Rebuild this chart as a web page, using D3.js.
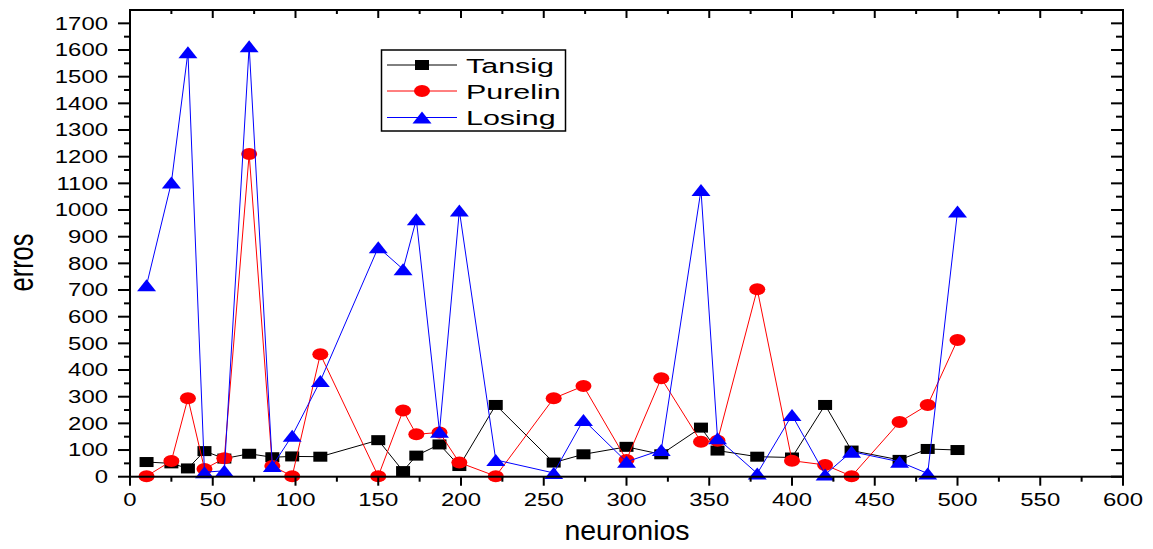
<!DOCTYPE html>
<html>
<head>
<meta charset="utf-8">
<script src="https://cdn.jsdelivr.net/npm/d3@7"></script>
<style>
  body { margin: 0; background: #fff; }
  text { font-family: "Liberation Sans", Arial, sans-serif; fill: #000; }
</style>
</head>
<body>
<div id="chart"></div>
<script>
// neuron counts on the x axis (shared by all three series)
var neuronios = [10, 25, 35, 45, 57, 72, 86, 98, 115, 150, 165, 173, 187, 199,
                 221, 256, 274, 300, 321, 345, 355, 379, 400, 420, 436, 465, 482, 500];
var tansig  = [55, 50, 31, 96, 68, 86, 73, 76, 75, 137, 21, 79, 121, 40,
               269, 53, 84, 112, 84, 184, 98, 75, 72, 269, 98, 63, 104, 100];
var purelin = [2, 59, 294, 29, 69, 1210, 40, 2, 459, 2, 248, 159, 166, 53,
               2, 294, 340, 63, 369, 131, 135, 703, 60, 44, 2, 205, 269, 513];
var losing  = [718, 1103, 1592, 17, 22, 1614, 40, 154, 359, 860, 778, 965, 169, 998,
               63, 14, 213, 56, 100, 1075, 144, 12, 231, 8, 94, 56, 12, 994];
var seriesNames = ["Tansig", "Purelin", "Losing"];
var yTicks = d3.range(0, 1701, 100);
var xTicks = d3.range(0, 601, 50);

var w = 1153, h = 549;
var plotL = 130, plotR = 1123, plotT = 10, plotB = 476.7;

var svg = d3.select("#chart").append("svg").attr("width", w).attr("height", h);

var x = d3.scaleLinear().domain([0, 600]).range([plotL, plotR]);
var y = d3.scaleLinear().domain([0, 1750]).range([plotB, plotT]);

var series = [
  { name: seriesNames[0], values: tansig,  color: "#000000", shape: "square" },
  { name: seriesNames[1], values: purelin, color: "#ff0000", shape: "circle" },
  { name: seriesNames[2], values: losing,  color: "#0000ff", shape: "triangle" }
];

function drawMarker(g, shape, color, cx, cy) {
  if (shape == "square") {
    g.append("rect").attr("x", cx - 7).attr("y", cy - 5).attr("width", 14).attr("height", 10).attr("fill", color);
  } else if (shape == "circle") {
    g.append("ellipse").attr("cx", cx).attr("cy", cy).attr("rx", 8).attr("ry", 6).attr("fill", color);
  } else {
    g.append("path").attr("d", "M" + cx + "," + (cy - 6) + "L" + (cx + 9.5) + "," + (cy + 6) + "L" + (cx - 9.5) + "," + (cy + 6) + "Z").attr("fill", color);
  }
}

// data
var line = d3.line().x((d) => x(d[0])).y((d) => y(d[1]));
series.forEach((s) => {
  var pts = neuronios.map((n, i) => [n, s.values[i]]);
  var g = svg.append("g");
  g.append("path").attr("d", line(pts)).attr("fill", "none").attr("stroke", s.color).attr("stroke-width", 1);
  pts.forEach((p) => drawMarker(g, s.shape, s.color, x(p[0]), y(p[1])));
});

// frame and ticks
var frame = svg.append("g").attr("stroke", "#000").attr("stroke-width", 2);
frame.append("rect").attr("x", plotL).attr("y", plotT).attr("width", plotR - plotL).attr("height", plotB - plotT).attr("fill", "none");

// y ticks, left outward and right inward
d3.range(0, 1701, 50).forEach((v) => {
  var major = v % 100 == 0;
  frame.append("line").attr("x1", plotL - (major ? 12 : 6)).attr("x2", plotL).attr("y1", y(v)).attr("y2", y(v));
  frame.append("line").attr("x1", plotR - (major ? 12 : 7)).attr("x2", plotR).attr("y1", y(v)).attr("y2", y(v));
});
// x ticks, bottom outward and top inward
d3.range(0, 601, 25).forEach((v) => {
  var major = v % 50 == 0;
  frame.append("line").attr("x1", x(v)).attr("x2", x(v)).attr("y1", plotB).attr("y2", plotB + (major ? 9 : 5));
  frame.append("line").attr("x1", x(v)).attr("x2", x(v)).attr("y1", plotT).attr("y2", plotT + (major ? 8 : 4));
});

svg.append("g").selectAll("text").data(yTicks).enter().append("text")
  .attr("transform", (d) => "translate(108," + y(d) + ") scale(1.33,1)")
  .attr("text-anchor", "end").attr("dy", "0.35em").attr("font-size", 18)
  .text((d) => d);

svg.append("g").selectAll("text").data(xTicks).enter().append("text")
  .attr("transform", (d) => "translate(" + x(d) + ",506) scale(1.33,1)")
  .attr("text-anchor", "middle").attr("font-size", 18)
  .text((d) => d);

svg.append("text").attr("transform", "translate(627,540)")
  .attr("text-anchor", "middle").attr("font-size", 28.5).text("neuronios");
svg.append("text").attr("transform", "translate(33,262.5) scale(1.36,1) rotate(-90)")
  .attr("text-anchor", "middle").attr("font-size", 25.5).text("erros");

// legend
var legend = svg.append("g");
legend.append("rect").attr("x", 381.5).attr("y", 50).attr("width", 184).attr("height", 81)
  .attr("fill", "#fff").attr("stroke", "#000").attr("stroke-width", 1.5);
var ly = [65, 91, 117.5];
series.forEach((s, i) => {
  legend.append("line").attr("x1", 387).attr("x2", 457).attr("y1", ly[i]).attr("y2", ly[i])
    .attr("stroke", s.color).attr("stroke-width", 1);
  drawMarker(legend, s.shape, s.color, 422, ly[i]);
  legend.append("text").attr("transform", "translate(466," + (ly[i] + 7.5) + ") scale(1.45,1)")
    .attr("font-size", 21).text(s.name);
});
</script>
</body>
</html>
